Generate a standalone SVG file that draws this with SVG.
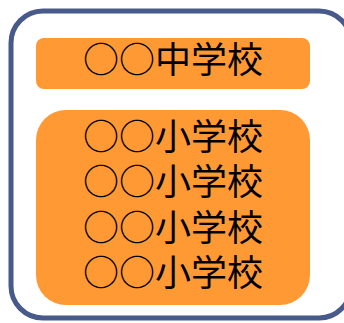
<svg xmlns="http://www.w3.org/2000/svg" width="344" height="323" viewBox="0 0 344 323">
<style>
.box{fill:#FF9933}
.t{font-family:"Noto Sans CJK JP","Noto Sans CJK SC",sans-serif;font-size:36px;fill:#000;text-anchor:middle}
</style>
<rect width="344" height="323" fill="#fff"/>
<g id="outer">
<rect x="11" y="11" width="340" height="307" rx="32" ry="32" fill="#fff" stroke="#475A8A" stroke-width="5"/>
</g>
<g id="middle-school">
<rect class="box" x="36" y="38" width="274" height="51" rx="8" ry="8"/>
<text class="t" x="173" y="73">○○中学校</text>
</g>
<g id="elementary-schools">
<rect class="box" x="36" y="110" width="274" height="195" rx="30" ry="30"/>
<text class="t" x="173" y="150">○○小学校</text>
<text class="t" x="173" y="195">○○小学校</text>
<text class="t" x="173" y="241">○○小学校</text>
<text class="t" x="173" y="286">○○小学校</text>
</g>
<g id="connectors"></g>
</svg>
